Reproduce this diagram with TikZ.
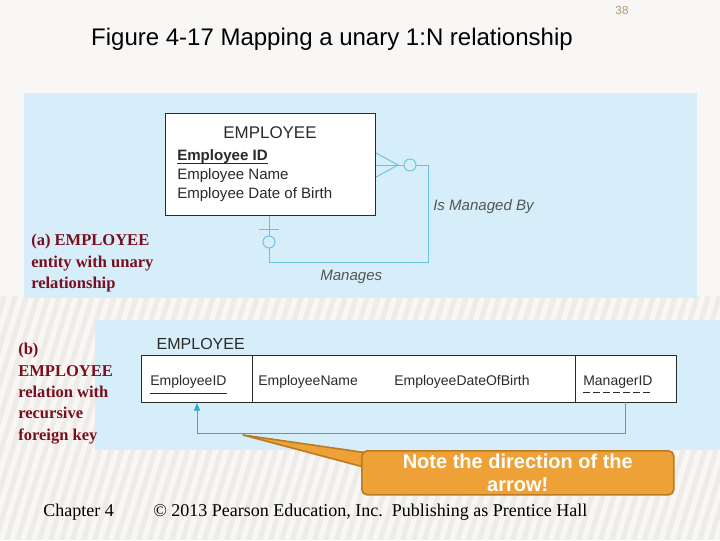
\documentclass[tikz,border=0pt]{standalone}
\usepackage{fontspec}
\setmainfont{Liberation Serif}
\setsansfont{Liberation Sans}
\usetikzlibrary{positioning, arrows.meta, calc}
\definecolor{paper}{HTML}{F8F7F5}
\definecolor{paperdk}{HTML}{EEECE7}
\definecolor{panel}{HTML}{D5EEF9}
\definecolor{conn}{HTML}{6CC0E0}
\definecolor{fkline}{HTML}{2FA9D6}
\definecolor{maroon}{HTML}{7A0E1E}
\definecolor{ink}{HTML}{2A2A2A}
\definecolor{rolec}{HTML}{555555}
\definecolor{notefill}{HTML}{EDA136}
\definecolor{noteline}{HTML}{B97A22}
\definecolor{pagenum}{HTML}{B39A6A}
\tikzset{
  entbox/.style={draw=ink, fill=white, line width=0.8pt, inner sep=0pt,
                 minimum width=157.5pt, minimum height=76.5pt, anchor=north west},
  relbox/.style={draw=ink, fill=white, line width=0.7pt, inner sep=0pt,
                 minimum width=401pt, minimum height=35pt, anchor=north west},
  attr/.style={font=\sffamily\fontsize{11.3}{13}\selectfont, text=ink,
               inner sep=0pt, anchor=base west},
  colname/.style={font=\sffamily\fontsize{10.5}{12}\selectfont, text=ink,
                  inner sep=0pt, anchor=base west},
  rolelbl/.style={font=\sffamily\itshape\fontsize{11.3}{13}\selectfont, text=rolec,
                  inner sep=0pt, anchor=base west},
  redlbl/.style={font=\bfseries\fontsize{12.4}{16}\selectfont, text=maroon,
                 align=left, inner sep=0pt, anchor=north west},
  conn/.style={draw=conn, line width=0.7pt},
  fkarr/.style={-{Triangle[length=2mm, width=1.6mm]}, draw=fkline, line width=0.7pt},
  notebox/.style={draw=noteline, fill=notefill, rounded corners=4pt, line width=1.2pt,
                  minimum width=234pt, minimum height=33pt, anchor=north west,
                  align=center, text=white, inner sep=1pt,
                  font=\sffamily\bfseries\fontsize{15}{17.3}\selectfont},
  foot/.style={font=\fontsize{13.5}{16}\selectfont, text=black, inner sep=0pt, anchor=base west},
}
\begin{document}
\begin{tikzpicture}[x=0.75pt, y=-0.75pt]
  \fill[paper] (0,0) rectangle (720,540);
  \useasboundingbox (0,0) rectangle (720,540);
  % faint striped lower background
  \begin{scope}
    \clip (0,296) rectangle (720,540);
    \fill[paperdk] (0,296) rectangle (720,540);
    \foreach \x in {-120,-109,...,720}
      \draw[paper, line width=4pt] (\x,540) -- (\x+75,296);
  \end{scope}
  % slide title and page number
  \node[font=\sffamily\fontsize{8.8}{10}\selectfont, text=pagenum, anchor=base] (pg) at (622,14) {38};
  \node[font=\sffamily\fontsize{18}{21}\selectfont, text=black, anchor=base] (title) at (332,45)
    {Figure 4-17 Mapping a unary 1:N relationship};
  % (a) E-R panel
  \fill[panel] (24,93) rectangle (697,298);
  \node[entbox] (emp) at (165,113) {};
  \node[font=\sffamily\fontsize{12.7}{15}\selectfont, text=ink, anchor=base] (ename) at (270,138) {EMPLOYEE};
  \node[attr, font=\sffamily\bfseries\fontsize{11.3}{13}\selectfont] (aid) at (177,160) {Employee ID};
  \draw[ink, line width=0.7pt] ([yshift=-2.5pt]aid.base west) -- ([yshift=-2.5pt]aid.base east);
  \node[attr] (aname) at (177,179) {Employee Name};
  \node[attr] (adob) at (177,198) {Employee Date of Birth};
  \coordinate (crow) at (398,165);
  \coordinate (mgrcorner) at (428,262);
  \draw[conn] (emp.east |- 0,153) -- (crow) -- (emp.east |- 0,177);
  \draw[conn] (emp.east |- crow) -- (crow);
  \draw[conn] (crow) -- (404,165) (416,165) -| (mgrcorner) -| (emp.south -| 269,0);
  \draw[conn] (410,165) circle (6);
  \draw[conn, fill=panel] (269,242) circle (6);
  \draw[conn] (259,229) -- (279,229);
  \node[rolelbl] (isman) at (433,210) {Is Managed By};
  \node[rolelbl] (manages) at (320,280) {Manages};
  \node[redlbl] (capa) at (31,234) {(a) EMPLOYEE\\entity with unary\\relationship};
  % (b) relational panel
  \fill[panel] (95,320) rectangle (720,450);
  \node[font=\sffamily\fontsize{12}{14}\selectfont, text=ink, anchor=base west] (relname) at (152,349) {EMPLOYEE};
  \node[relbox] (rel) at (141,355) {};
  \draw[ink, line width=0.7pt] (rel.north -| 252,0) -- (rel.south -| 252,0);
  \draw[ink, line width=0.7pt] (rel.north -| 575,0) -- (rel.south -| 575,0);
  \node[colname] (eid) at (150,385) {EmployeeID};
  \draw[ink, line width=0.7pt] ([yshift=-6pt]eid.base west) -- ([yshift=-6pt]eid.base east);
  \node[colname] (empname) at (258,385) {EmployeeName};
  \node[colname] (dob) at (394,385) {EmployeeDateOfBirth};
  \node[colname] (mgr) at (583,385) {ManagerID};
  \draw[ink, line width=0.7pt, dash pattern=on 5pt off 2.5pt]
    ([yshift=-5.5pt]mgr.base west) -- ([yshift=-5.5pt]mgr.base east);
  \coordinate (fkfrom) at (625,402);
  \coordinate (fkto) at (197,403);
  \draw[fkarr] (fkfrom) -- (fkfrom |- 0,433) -| (fkto);
  \node[redlbl] (capb) at (18,343) {(b)\\EMPLOYEE\\relation with\\recursive\\foreign key};
  % callout
  \coordinate (tip) at (243,435);
  \filldraw[fill=notefill, draw=noteline, line width=1.2pt, line join=round]
    (tip) -- (375,454) -- (375,470) -- cycle;
  \node[notebox] (note) at (361,450) {Note the direction of the\\arrow!};
  % footer
  \node[foot] (chap) at (43,516) {Chapter 4};
  \node[foot] (copy) at (153,516) {© 2013 Pearson Education, Inc.\ \ Publishing as Prentice Hall};
\end{tikzpicture}
\end{document}
